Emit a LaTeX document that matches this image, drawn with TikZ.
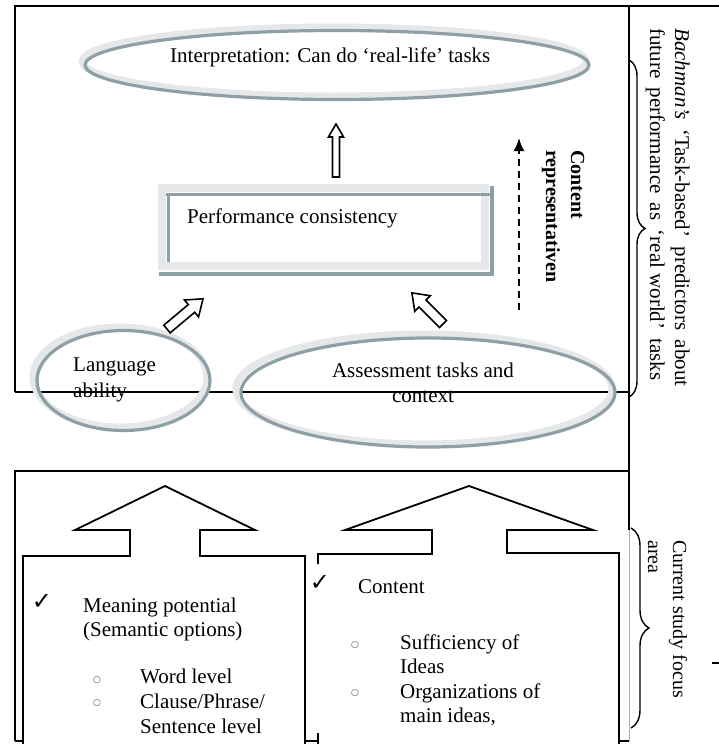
\documentclass[tikz,border=0pt]{standalone}
\usepackage{fontspec}
\setmainfont{Liberation Serif}
\newfontfamily\symfont{DejaVu Sans}
\usetikzlibrary{arrows.meta,decorations.pathreplacing}
\definecolor{ringlight}{RGB}{230,231,232}
\definecolor{ringdark}{RGB}{140,160,166}
\definecolor{thingrey}{RGB}{175,175,175}
\newcommand{\blockarr}[6]{%
  \draw[blk, shift={(#1)}, rotate=#2] (0,#5) -- (#3-#4,#5) -- (#3-#4,#6) -- (#3,0) -- (#3-#4,-#6) -- (#3-#4,-#5) -- (0,-#5) -- cycle;}
\newcommand{\wsp}{\hspace{4pt}}
\begin{document}
\begin{tikzpicture}[x=1pt,y=-1pt,
  ln/.style={line width=1.8pt, draw=black},
  lightring/.style={draw=ringlight, line width=7pt},
  darkring/.style={draw=ringdark, line width=3.2pt},
  txt/.style={font=\fontsize{21}{25}\selectfont, inner sep=0pt, anchor=base west},
  ctxt/.style={font=\fontsize{21}{25}\selectfont, inner sep=0pt, anchor=base},
  rtxt/.style={font=\fontsize{20}{24}\selectfont, inner sep=0pt, rotate=-90, anchor=base west},
  rbtxt/.style={font=\fontsize{20}{24}\selectfont\bfseries, inner sep=0pt, rotate=-90, anchor=base west},
  blk/.style={draw=black, line width=1.6pt, fill=white, line join=miter},
  bigarrow/.style={draw=black, line width=1.8pt, line join=miter},
  bullet/.style={font=\symfont\fontsize{9}{9}\selectfont, inner sep=0pt, anchor=center, text=black!70},
  tick/.style={font=\symfont\fontsize{24}{24}\selectfont, inner sep=0pt, anchor=center},
  bracestyle/.style={decorate, line width=1.4pt},
]
\useasboundingbox (0,0) rectangle (719,744);
\clip (0,0) rectangle (719,744);

% ---------- outer frames ----------
\draw[ln] (15,392) -- (15,6) -- (719,6);
\draw[ln] (15,392) -- (629,392);
\draw[ln] (629,6) -- (629,530);
\draw[draw=thingrey, line width=1pt] (629,530) -- (629,741);
\draw[ln] (15,741) -- (15,471) -- (629,471);
\draw[ln] (15,741) -- (629,741);

% ---------- bottom big arrows ----------
\fill[white] (23,752) -- (23,556) -- (130,556) -- (130,530) -- (75,530) -- (165,486) -- (255,530) -- (200,530) -- (200,556) -- (305,556) -- (305,752) -- cycle;
\draw[bigarrow] (23,752) -- (23,556) -- (130,556) -- (130,530) -- (75,530) -- (165,486) -- (255,530) -- (200,530) -- (200,556) -- (305,556) -- (305,752);
\fill[white] (318,752) -- (318,554) -- (432,554) -- (432,530) -- (345,530) -- (469,486) -- (593,530) -- (507,530) -- (507,553) -- (619,553) -- (619,752) -- cycle;
\draw[bigarrow] (318,564) -- (318,554) -- (432,554) -- (432,530) -- (345,530) -- (469,486) -- (593,530) -- (507,530) -- (507,553) -- (619,553) -- (619,752);
\draw[bigarrow] (318,733) -- (318,752);
\draw[ln] (619,741) -- (629,741);

% ---------- top ellipse ----------
\draw[lightring] (334,61.5) ellipse [x radius=252pt, y radius=34.5pt];
\draw[darkring] (337,65) ellipse [x radius=252pt, y radius=34.5pt];
\node[txt] (interp) at (170,62) {Interpretation: Can do ‘real-life’ tasks};

% ---------- performance box ----------
\draw[draw=ringlight, line width=8pt] (162,188) rectangle (485,266);
\draw[draw=ringdark, line width=3.5pt] (166,194.5) -- (490,194.5);
\draw[draw=ringdark, line width=3.5pt] (168.5,193) -- (168.5,262);
\draw[draw=ringdark, line width=3.5pt] (159,274) -- (494,274);
\draw[draw=ringdark, line width=3.5pt] (492,186) -- (492,276);
\node[txt] (perf) at (187,223) {Performance consistency};

% ---------- lower ellipses ----------
\draw[lightring] (120,377) ellipse [x radius=87pt, y radius=50pt];
\draw[darkring] (123.5,380.5) ellipse [x radius=86.5pt, y radius=50pt];
\draw[lightring] (424,389) ellipse [x radius=188pt, y radius=55pt];
\draw[darkring] (428,392.5) ellipse [x radius=187pt, y radius=54.5pt];
\node[txt] (lang1) at (73,371) {Language};
\node[txt] (lang2) at (73,397) {ability};
\node[ctxt] (assess1) at (423,377) {Assessment tasks and};
\node[ctxt] (assess2) at (423,402) {context};

% ---------- block arrows ----------
\coordinate (uptail) at (336,177);
\coordinate (langtail) at (167,329);
\coordinate (asstail) at (443,324);
\blockarr{uptail}{90}{53}{13}{3.5}{7.5}
\blockarr{langtail}{40}{47}{15}{5}{11}
\blockarr{asstail}{135}{44}{15}{5}{11}

% ---------- dashed arrow and its label ----------
\coordinate (dtail) at (519,310);
\coordinate (dtip) at (519,138);
\draw[line width=2pt, dash pattern=on 7pt off 5pt, -{Latex[length=13pt,width=11pt]}] (dtail) -- (dtip);
\node[rbtxt] (cr1) at (571,150) {Content};
\node[rbtxt] (cr2) at (546,150) {representativen};

% ---------- braces and right texts ----------
\draw[bracestyle, decoration={brace, amplitude=16pt}] (629,60) -- (629,397);
\draw[bracestyle, decoration={brace, amplitude=18pt}] (631,528) -- (631,728);
\node[rtxt, font=\fontsize{21}{25}\selectfont] (bach1) at (675,28) {\textit{Bachman’s}\wsp{} ‘Task-based’\wsp{} predictors\wsp{} about};
\node[rtxt, font=\fontsize{21}{25}\selectfont] (bach2) at (650,28) {future\wsp{} performance\wsp{} as\wsp{} ‘real world’\wsp{} tasks};
\node[rtxt] (cur1) at (673,540) {Current study focus};
\node[rtxt] (cur2) at (648,540) {area};
\coordinate (dashA) at (712,663);
\coordinate (dashB) at (719,663);
\draw[line width=1.5pt] (dashA) -- (dashB);

% ---------- bottom texts ----------
\node[tick] (chk1) at (42,602) {✓};
\node[txt] (mp1) at (83,612) {Meaning potential};
\node[txt] (mp2) at (83,636) {(Semantic options)};
\node[bullet] (b1) at (97,680) {○};
\node[bullet] (b2) at (97,703) {○};
\node[txt] (wl) at (140,683) {Word level};
\node[txt] (cl1) at (140,708) {Clause/Phrase/};
\node[txt] (cl2) at (140,733) {Sentence level};

\node[tick] (chk2) at (320,583) {✓};
\node[txt] (cont) at (358,593) {Content};
\node[bullet] (b3) at (355,645) {○};
\node[bullet] (b4) at (355,693) {○};
\node[txt] (suf1) at (400,649) {Sufficiency of};
\node[txt] (suf2) at (400,673) {Ideas};
\node[txt] (org1) at (400,698) {Organizations of};
\node[txt] (org2) at (400,722) {main ideas,};
\end{tikzpicture}
\end{document}
